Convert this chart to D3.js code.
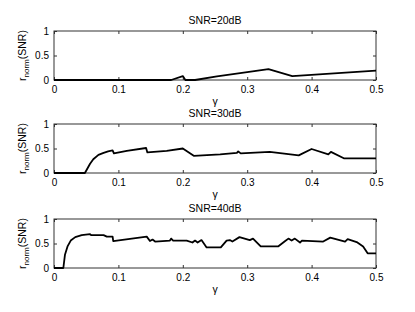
<!DOCTYPE html>
<html>
<head>
<meta charset="utf-8">
<script src="https://cdn.jsdelivr.net/npm/d3@7"></script>
<style>
  body { margin: 0; background: #fff; }
  text { font-family: "Liberation Sans", Arial, sans-serif; fill: #000; }
</style>
</head>
<body>
<div id="chart"></div>
<script>
// values
var titles = ["SNR=20dB", "SNR=30dB", "SNR=40dB"];
var xTicks = [0, 0.1, 0.2, 0.3, 0.4, 0.5];
var yTicks = [0, 0.5, 1];

var gamma20 = [0, 0.182, 0.2, 0.204, 0.219, 0.253, 0.3, 0.333, 0.37, 0.5];
var r20 = [0, 0, 0.08, 0, 0, 0.075, 0.16, 0.22, 0.08, 0.19];

var gamma30 = [0, 0.048, 0.056, 0.061, 0.069, 0.077, 0.084, 0.091, 0.093, 0.113, 0.143, 0.145,
    0.175, 0.2, 0.217, 0.258, 0.284, 0.286, 0.29, 0.335, 0.38, 0.4, 0.426, 0.43, 0.45, 0.5];
var r30 = [0, 0, 0.19, 0.28, 0.37, 0.41, 0.44, 0.46, 0.40, 0.45, 0.51, 0.42,
    0.45, 0.50, 0.35, 0.38, 0.41, 0.44, 0.40, 0.43, 0.36, 0.49, 0.38, 0.43, 0.30, 0.30];

var gamma40 = [0, 0.0145, 0.017, 0.021, 0.026, 0.033, 0.043, 0.056, 0.058, 0.077, 0.082, 0.091, 0.092,
    0.144, 0.149, 0.153, 0.157, 0.18, 0.182, 0.185, 0.206, 0.215, 0.219, 0.223, 0.229, 0.237, 0.259,
    0.268, 0.273, 0.277, 0.288, 0.304, 0.309, 0.321, 0.348, 0.359, 0.364, 0.369, 0.374, 0.382, 0.385,
    0.418, 0.429, 0.452, 0.456, 0.47, 0.48, 0.487, 0.5];
var r40 = [0, 0, 0.27, 0.44, 0.56, 0.63, 0.67, 0.69, 0.67, 0.67, 0.64, 0.64, 0.55,
    0.64, 0.55, 0.58, 0.54, 0.56, 0.60, 0.56, 0.56, 0.52, 0.56, 0.52, 0.57, 0.42, 0.42,
    0.56, 0.57, 0.54, 0.63, 0.57, 0.60, 0.44, 0.44, 0.55, 0.60, 0.56, 0.60, 0.52, 0.56,
    0.54, 0.62, 0.54, 0.59, 0.53, 0.44, 0.30, 0.30];

var panels = [
    { title: titles[0], gx: gamma20, gy: r20, top: 31 },
    { title: titles[1], gx: gamma30, gy: r30, top: 124 },
    { title: titles[2], gx: gamma40, gy: r40, top: 219 }
];

var W = 415, H = 312;
var left = 54, right = 376, ph = 49;

var svg = d3.select("#chart")
    .append("svg")
    .attr("width", W)
    .attr("height", H);

var x = d3.scaleLinear().domain([0, 0.5]).range([left, right]);

panels.forEach(function (p) {
    var y = d3.scaleLinear().domain([0, 1]).range([p.top + ph, p.top]);
    var g = svg.append("g");

    // inward ticks on all four sides, matlab style
    g.append("g")
        .attr("transform", "translate(0," + (p.top + ph) + ")")
        .call(d3.axisBottom(x).tickValues(xTicks).tickSizeInner(-3).tickSizeOuter(0).tickPadding(6)
            .tickFormat(function (d) { return d === 0 ? "0" : d3.format(".1f")(d); }));
    g.append("g")
        .attr("transform", "translate(0," + p.top + ")")
        .call(d3.axisTop(x).tickValues(xTicks).tickSizeInner(-3).tickSizeOuter(0).tickFormat(""));
    g.append("g")
        .attr("transform", "translate(" + left + ",0)")
        .call(d3.axisLeft(y).tickValues(yTicks).tickSizeInner(-3).tickSizeOuter(0).tickPadding(5)
            .tickFormat(function (d) { return d === 0.5 ? "0.5" : d; }));
    g.append("g")
        .attr("transform", "translate(" + right + ",0)")
        .call(d3.axisRight(y).tickValues(yTicks).tickSizeInner(-3).tickSizeOuter(0).tickFormat(""));

    g.selectAll(".domain").remove();
    g.selectAll(".tick line").attr("stroke", "#333");
    g.selectAll(".tick text").style("font-size", "10px");

    g.append("rect")
        .attr("x", left).attr("y", p.top)
        .attr("width", right - left).attr("height", ph)
        .attr("fill", "none").attr("stroke", "#333").attr("stroke-width", 1);

    var line = d3.line()
        .x(function (d, i) { return x(p.gx[i]); })
        .y(function (d) { return y(d); });

    g.append("path")
        .datum(p.gy)
        .attr("fill", "none")
        .attr("stroke", "#000")
        .attr("stroke-width", 1.8)
        .attr("stroke-linejoin", "round")
        .attr("d", line);

    g.append("text")
        .attr("x", (left + right) / 2).attr("y", p.top - 7)
        .attr("text-anchor", "middle")
        .style("font-size", "10.5px")
        .text(p.title);

    g.append("text")
        .attr("x", (left + right) / 2).attr("y", p.top + ph + 25)
        .attr("text-anchor", "middle")
        .style("font-size", "10.5px")
        .text("γ");

    var lab = g.append("text")
        .attr("transform", "translate(26," + (p.top + ph / 2) + ") rotate(-90)")
        .attr("text-anchor", "middle")
        .style("font-size", "10.5px");
    lab.append("tspan").text("r");
    lab.append("tspan").attr("dy", 3).style("font-size", "8px").text("norm");
    lab.append("tspan").attr("dy", -3).text("(SNR)");
});
</script>
</body>
</html>
